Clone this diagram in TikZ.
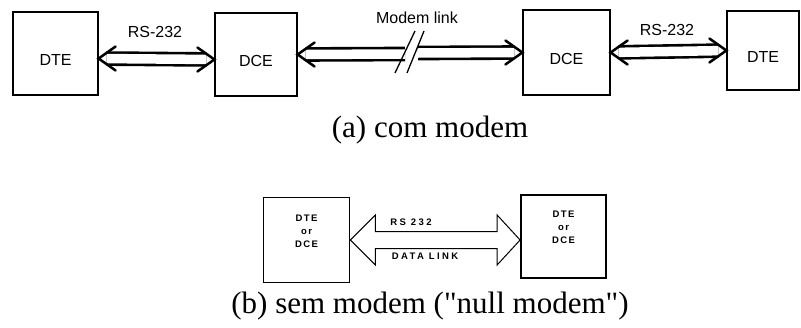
\documentclass[tikz,border=0pt]{standalone}
\usepackage{fontspec}
\setmainfont{Liberation Serif}
\setsansfont{Liberation Sans}
\usetikzlibrary{calc}

\tikzset{
  lhead/.pic={\draw[line width=2.5pt,line cap=round] (17,-12) -- (0,0) -- (17,12);}
}

\begin{document}
\begin{tikzpicture}[x=1pt,y=-1pt,
    topbox/.style={draw,line width=1.2pt,minimum height=83pt,inner sep=0pt,
      font=\sffamily\fontsize{16}{18}\selectfont,text height=24pt},
    botbox/.style={draw,line width=1.8pt,minimum width=86pt,minimum height=85pt,inner sep=0pt,
      align=center,font=\sffamily\bfseries\fontsize{9.5}{13}\selectfont\addfontfeature{LetterSpace=15},
      text depth=18pt},
    link/.style={double,double distance=9.5pt,line width=2.6pt},
    linklabel/.style={font=\sffamily\fontsize{16}{18}\selectfont},
    smalllabel/.style={font=\sffamily\bfseries\fontsize{9.5}{11}\selectfont\addfontfeature{LetterSpace=25}},
    caption/.style={font=\fontsize{31}{34}\selectfont}]
  \useasboundingbox (0,0) rectangle (801,327);

  % (a) with modem
  \node[topbox,minimum width=85pt] (dte1) at (55.5,53.5) {DTE};
  \node[topbox,minimum width=82pt] (dce1) at (256,54.5) {DCE};
  \node[topbox,minimum width=87pt,minimum height=85pt] (dce2) at (566.5,52.5) {DCE};
  \node[topbox,minimum width=72pt,minimum height=79pt] (dte2) at (763,50.5) {DTE};

  % RS-232 links
  \coordinate (a1) at ([yshift=-5pt]dte1.east);
  \coordinate (a2) at ([yshift=-5pt]dce1.west);
  \draw[link,shorten <=8pt,shorten >=8pt] (a1) -- (a2);
  \pic at (a1) {lhead};
  \pic[rotate=180] at (a2) {lhead};
  \draw[link,shorten <=8pt,shorten >=8pt] (dce2.east) -- (dte2.west);
  \pic at (dce2.east) {lhead};
  \pic[rotate=180] at (dte2.west) {lhead};
  \node[linklabel] (rs1) at (155,32) {RS-232};
  \node[linklabel] (rs2) at (667,30) {RS-232};

  % Modem link, broken
  \coordinate (brkl) at (405,54);
  \coordinate (brkr) at (418,53);
  \draw[link,shorten <=8pt] (dce1.east) -- (brkl);
  \draw[link,shorten >=8pt] (brkr) -- (dce2.west);
  \pic at (dce1.east) {lhead};
  \pic[rotate=180] at (dce2.west) {lhead};
  \draw[line width=1.3pt] (395,73) -- (415,31);
  \draw[line width=1.3pt] (407,73) -- (424,31);
  \node[linklabel] (modem) at (417,18) {Modem link};

  \node[caption] (capa) at (430,130) {(a) com modem};

  % (b) null modem
  \node[botbox] (bl) at (306.5,240) {DTE\\or\\DCE};
  \node[botbox,minimum width=85pt,minimum height=83pt] (br) at (563.5,236.5) {DTE\\or\\DCE};

  % Hollow arrow
  \coordinate (tl) at (bl.east);
  \coordinate (tr) at (br.west |- tl);
  \draw[line width=1pt,line join=miter]
    (tl) -- ++(25,-25) -- ++(0,16.5) -- ($(tr)+(-23,-8.5)$) -- ++(0,-16.5)
    -- (tr) -- ++(-23,25) -- ++(0,-16.5) -- ($(tl)+(25,8.5)$) -- ++(0,16.5) -- cycle;
  \node[smalllabel] (rsb) at (411,222) {RS 232};
  \node[smalllabel] (dlink) at (425,256) {DATA LINK};

  \node[caption] (capb) at (430,306) {(b) sem modem (\textquotedbl null modem\textquotedbl)};
\end{tikzpicture}
\end{document}
